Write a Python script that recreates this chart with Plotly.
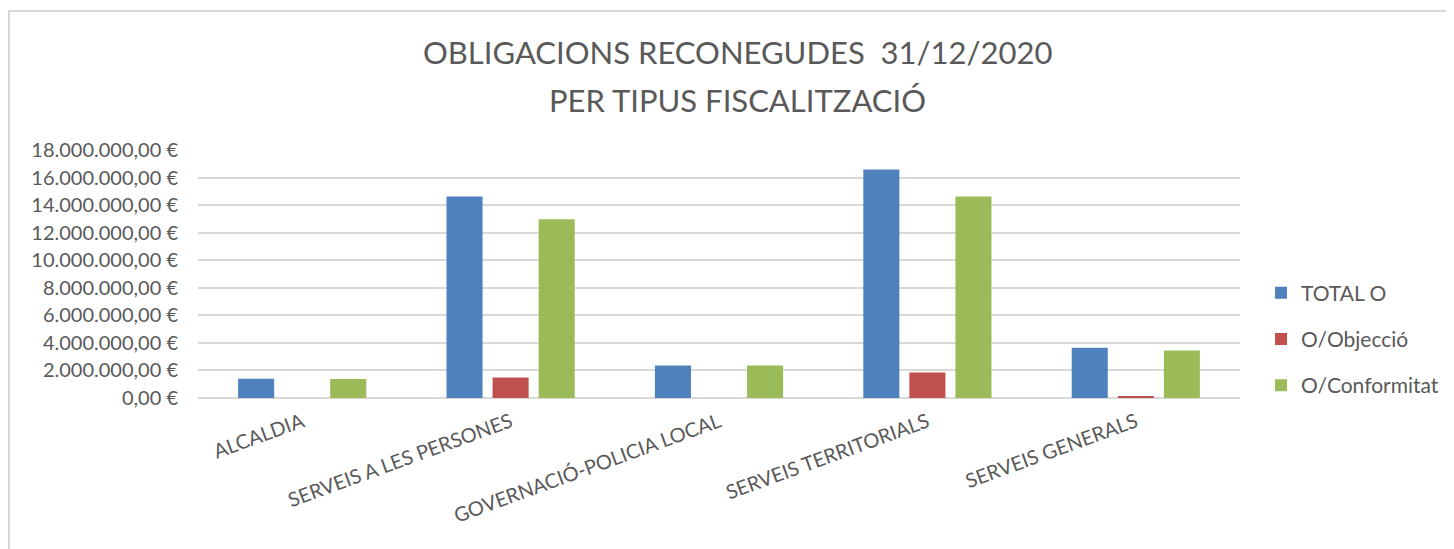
import plotly.graph_objects as go

categories = ["ALCALDIA", "SERVEIS A LES PERSONES", "GOVERNACIÓ-POLICIA LOCAL",
              "SERVEIS TERRITORIALS", "SERVEIS GENERALS"]
total_o = [1400000, 14620000, 2360000, 16580000, 3640000]
o_objeccio = [0, 1480000, 0, 1850000, 120000]
o_conformitat = [1380000, 12970000, 2360000, 14620000, 3450000]
series_names = ["TOTAL O", "O/Objecció", "O/Conformitat"]
tick_vals = [0, 2000000, 4000000, 6000000, 8000000, 10000000, 12000000,
             14000000, 16000000, 18000000]
title_lines = ["OBLIGACIONS RECONEGUDES  31/12/2020", "PER TIPUS FISCALITZACIÓ"]


def eur(v):
    s = f"{v:,.2f}"  # 18,000,000.00
    s = s.replace(",", "X").replace(".", ",").replace("X", ".")
    return s + " €"


tick_text = [eur(v) for v in tick_vals]

colors = ["#4F81BD", "#C0504D", "#9BBB59"]
FONT = "Lato"
GREY = "#595959"

# page has an 8px body margin -> work in page pixels, convert to figure pixels
OFF = 8
W, H = 1454 - OFF, 549 - OFF
PL, PR, PT, PB = 198, 1240, 150, 398  # plot area in page pixels
L, R, T, B = PL - OFF, W - (PR - OFF), PT - OFF, H - (PB - OFF)
pw, ph = W - L - R, H - T - B


def px_x(p):
    return (p - OFF - L) / pw


def px_y(p):
    return (H - B - (p - OFF)) / ph


fig = go.Figure()
for name, vals, col in zip(series_names, [total_o, o_objeccio, o_conformitat], colors):
    fig.add_trace(go.Bar(
        x=categories, y=vals, name=name, legendgroup=name,
        marker=dict(color=col, line=dict(width=0)),
    ))

annotations = [
    dict(text=title_lines[0], x=px_x(737), y=px_y(52), xref="paper", yref="paper",
         xanchor="center", yanchor="middle", showarrow=False,
         font=dict(family=FONT, size=31, color=GREY)),
    dict(text=title_lines[1], x=px_x(737), y=px_y(100), xref="paper", yref="paper",
         xanchor="center", yanchor="middle", showarrow=False,
         font=dict(family=FONT, size=31, color=GREY)),
]

fig.update_layout(
    width=W, height=H,
    margin=dict(l=L, r=R, t=T, b=B, autoexpand=False),
    paper_bgcolor="white", plot_bgcolor="white",
    font=dict(family=FONT, color=GREY, size=20),
    bargap=0.337, bargroupgap=0.217,
    annotations=annotations,
    xaxis=dict(
        tickangle=-20, tickfont=dict(size=20, color=GREY),
        showgrid=False, showline=False, ticks="", ticklabelstandoff=8,
    ),
    yaxis=dict(
        range=[0, 18000000], tickvals=tick_vals, ticktext=tick_text,
        tickfont=dict(size=20, color=GREY),
        showgrid=True, gridcolor="#D9D9D9", gridwidth=2,
        zeroline=True, zerolinecolor="#D9D9D9", zerolinewidth=2,
        showline=False, ticks="", ticklabelstandoff=19,
    ),
    legend=dict(
        x=px_x(1261), xanchor="left", y=px_y(339), yanchor="middle",
        traceorder="grouped", tracegroupgap=16,
        font=dict(size=21, color=GREY), bgcolor="rgba(0,0,0,0)",
        itemwidth=30,
    ),
    shapes=[dict(
        type="rect", xref="paper", yref="paper",
        x0=px_x(9), x1=px_x(1454 + 30), y0=px_y(549 + 30), y1=px_y(11),
        line=dict(color="#D9D9D9", width=2), fillcolor="rgba(0,0,0,0)", layer="below",
    )],
)

fig.write_html("out.html")
